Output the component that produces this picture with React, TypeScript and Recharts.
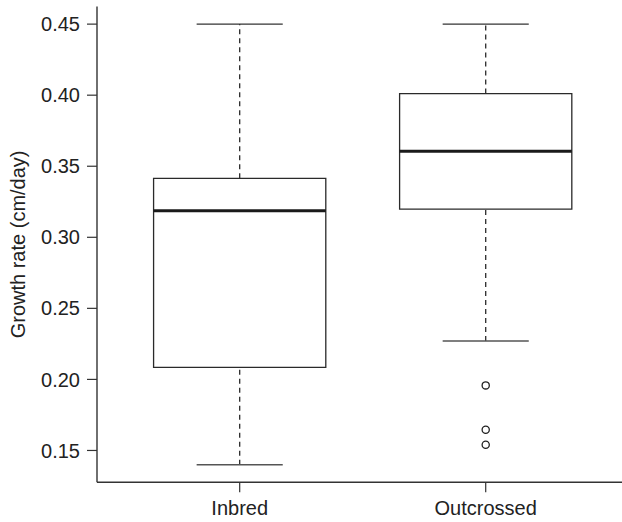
import React from "react";
import {
  ComposedChart,
  XAxis,
  YAxis,
  Scatter,
  ReferenceArea,
  ReferenceLine,
} from "recharts";

const categories = ["Inbred", "Outcrossed"];
const whiskerLow = [0.14, 0.227];
const q1 = [0.2085, 0.3198];
const median = [0.3187, 0.3605];
const q3 = [0.3415, 0.4011];
const whiskerHigh = [0.45, 0.45];
const outlierGroup = [2, 2, 2];
const outlierValue = [0.1958, 0.1646, 0.154];
const yTicks = [0.15, 0.2, 0.25, 0.3, 0.35, 0.4, 0.45];

const outliers = outlierGroup.map((g, i) => ({ x: g, y: outlierValue[i] }));

const FONT = "'Liberation Sans', Arial, Helvetica, sans-serif";
const BOX_HALF = 0.35;
const CAP_HALF = 0.175;
const LINE = "#2a2a2a";

export default function App() {
  const boxes = categories.map((_, i) => {
    const c = i + 1;
    return (
      <React.Fragment key={i}>
        <ReferenceLine
          segment={[{ x: c, y: whiskerLow[i] }, { x: c, y: q1[i] }]}
          stroke={LINE}
          strokeWidth={1.3}
          strokeDasharray="5 4"
        />
        <ReferenceLine
          segment={[{ x: c, y: q3[i] }, { x: c, y: whiskerHigh[i] }]}
          stroke={LINE}
          strokeWidth={1.3}
          strokeDasharray="5 4"
        />
        <ReferenceLine
          segment={[
            { x: c - CAP_HALF, y: whiskerLow[i] },
            { x: c + CAP_HALF, y: whiskerLow[i] },
          ]}
          stroke="#555"
          strokeWidth={1.6}
        />
        <ReferenceLine
          segment={[
            { x: c - CAP_HALF, y: whiskerHigh[i] },
            { x: c + CAP_HALF, y: whiskerHigh[i] },
          ]}
          stroke="#333"
          strokeWidth={1.4}
        />
        <ReferenceArea
          x1={c - BOX_HALF}
          x2={c + BOX_HALF}
          y1={q1[i]}
          y2={q3[i]}
          fill="none"
          fillOpacity={0}
          stroke={LINE}
          strokeWidth={1.3}
        />
        <ReferenceLine
          segment={[
            { x: c - BOX_HALF, y: median[i] },
            { x: c + BOX_HALF, y: median[i] },
          ]}
          stroke="#1a1a1a"
          strokeWidth={3}
        />
      </React.Fragment>
    );
  });

  return (
    <div
      style={{
        position: "absolute",
        left: 0,
        top: 0,
        width: 622,
        height: 522,
        overflow: "hidden",
        background: "#fff",
      }}
    >
      <ComposedChart
        width={640}
        height={522}
        data={outliers}
        margin={{ top: 6.5, right: 11.6, left: 0, bottom: 0 }}
        style={{ fontFamily: FONT }}
      >
        <XAxis
          xAxisId="top"
          orientation="top"
          type="number"
          domain={[0.42, 2.58]}
          height={0}
          tick={false}
          tickLine={false}
          axisLine={{ stroke: "#777", strokeWidth: 1.6 }}
        />
        <XAxis
          type="number"
          dataKey="x"
          domain={[0.42, 2.58]}
          ticks={[1, 2]}
          allowDataOverflow
          tickFormatter={(v: number) => categories[Math.round(v) - 1]}
          height={39.7}
          tickSize={10}
          tickMargin={8}
          axisLine={{ stroke: "#333", strokeWidth: 1.4 }}
          tickLine={{ stroke: "#333", strokeWidth: 1.2 }}
          tick={{ fontSize: 20, fill: "#222", fontFamily: FONT }}
          interval={0}
        />
        <YAxis
          type="number"
          dataKey="y"
          domain={[0.1276, 0.4624]}
          ticks={yTicks}
          allowDataOverflow
          tickFormatter={(v: number) => v.toFixed(2)}
          width={97}
          tickSize={10}
          tickMargin={7}
          axisLine={{ stroke: "#333", strokeWidth: 1.4 }}
          tickLine={{ stroke: "#333", strokeWidth: 1.2 }}
          tick={{ fontSize: 20, fill: "#222", fontFamily: FONT }}
          interval={0}
          label={{
            value: "Growth rate (cm/day)",
            angle: -90,
            position: "insideLeft",
            offset: 18,
            style: {
              textAnchor: "middle",
              fontSize: 20,
              fill: "#222",
              fontFamily: FONT,
            },
          }}
        />
        {boxes}
        <Scatter
          data={outliers}
          dataKey="y"
          isAnimationActive={false}
          shape={(p: any) => (
            <circle
              cx={p.cx}
              cy={p.cy}
              r={3.6}
              fill="none"
              stroke="#222"
              strokeWidth={1.3}
            />
          )}
        />
      </ComposedChart>
    </div>
  );
}
